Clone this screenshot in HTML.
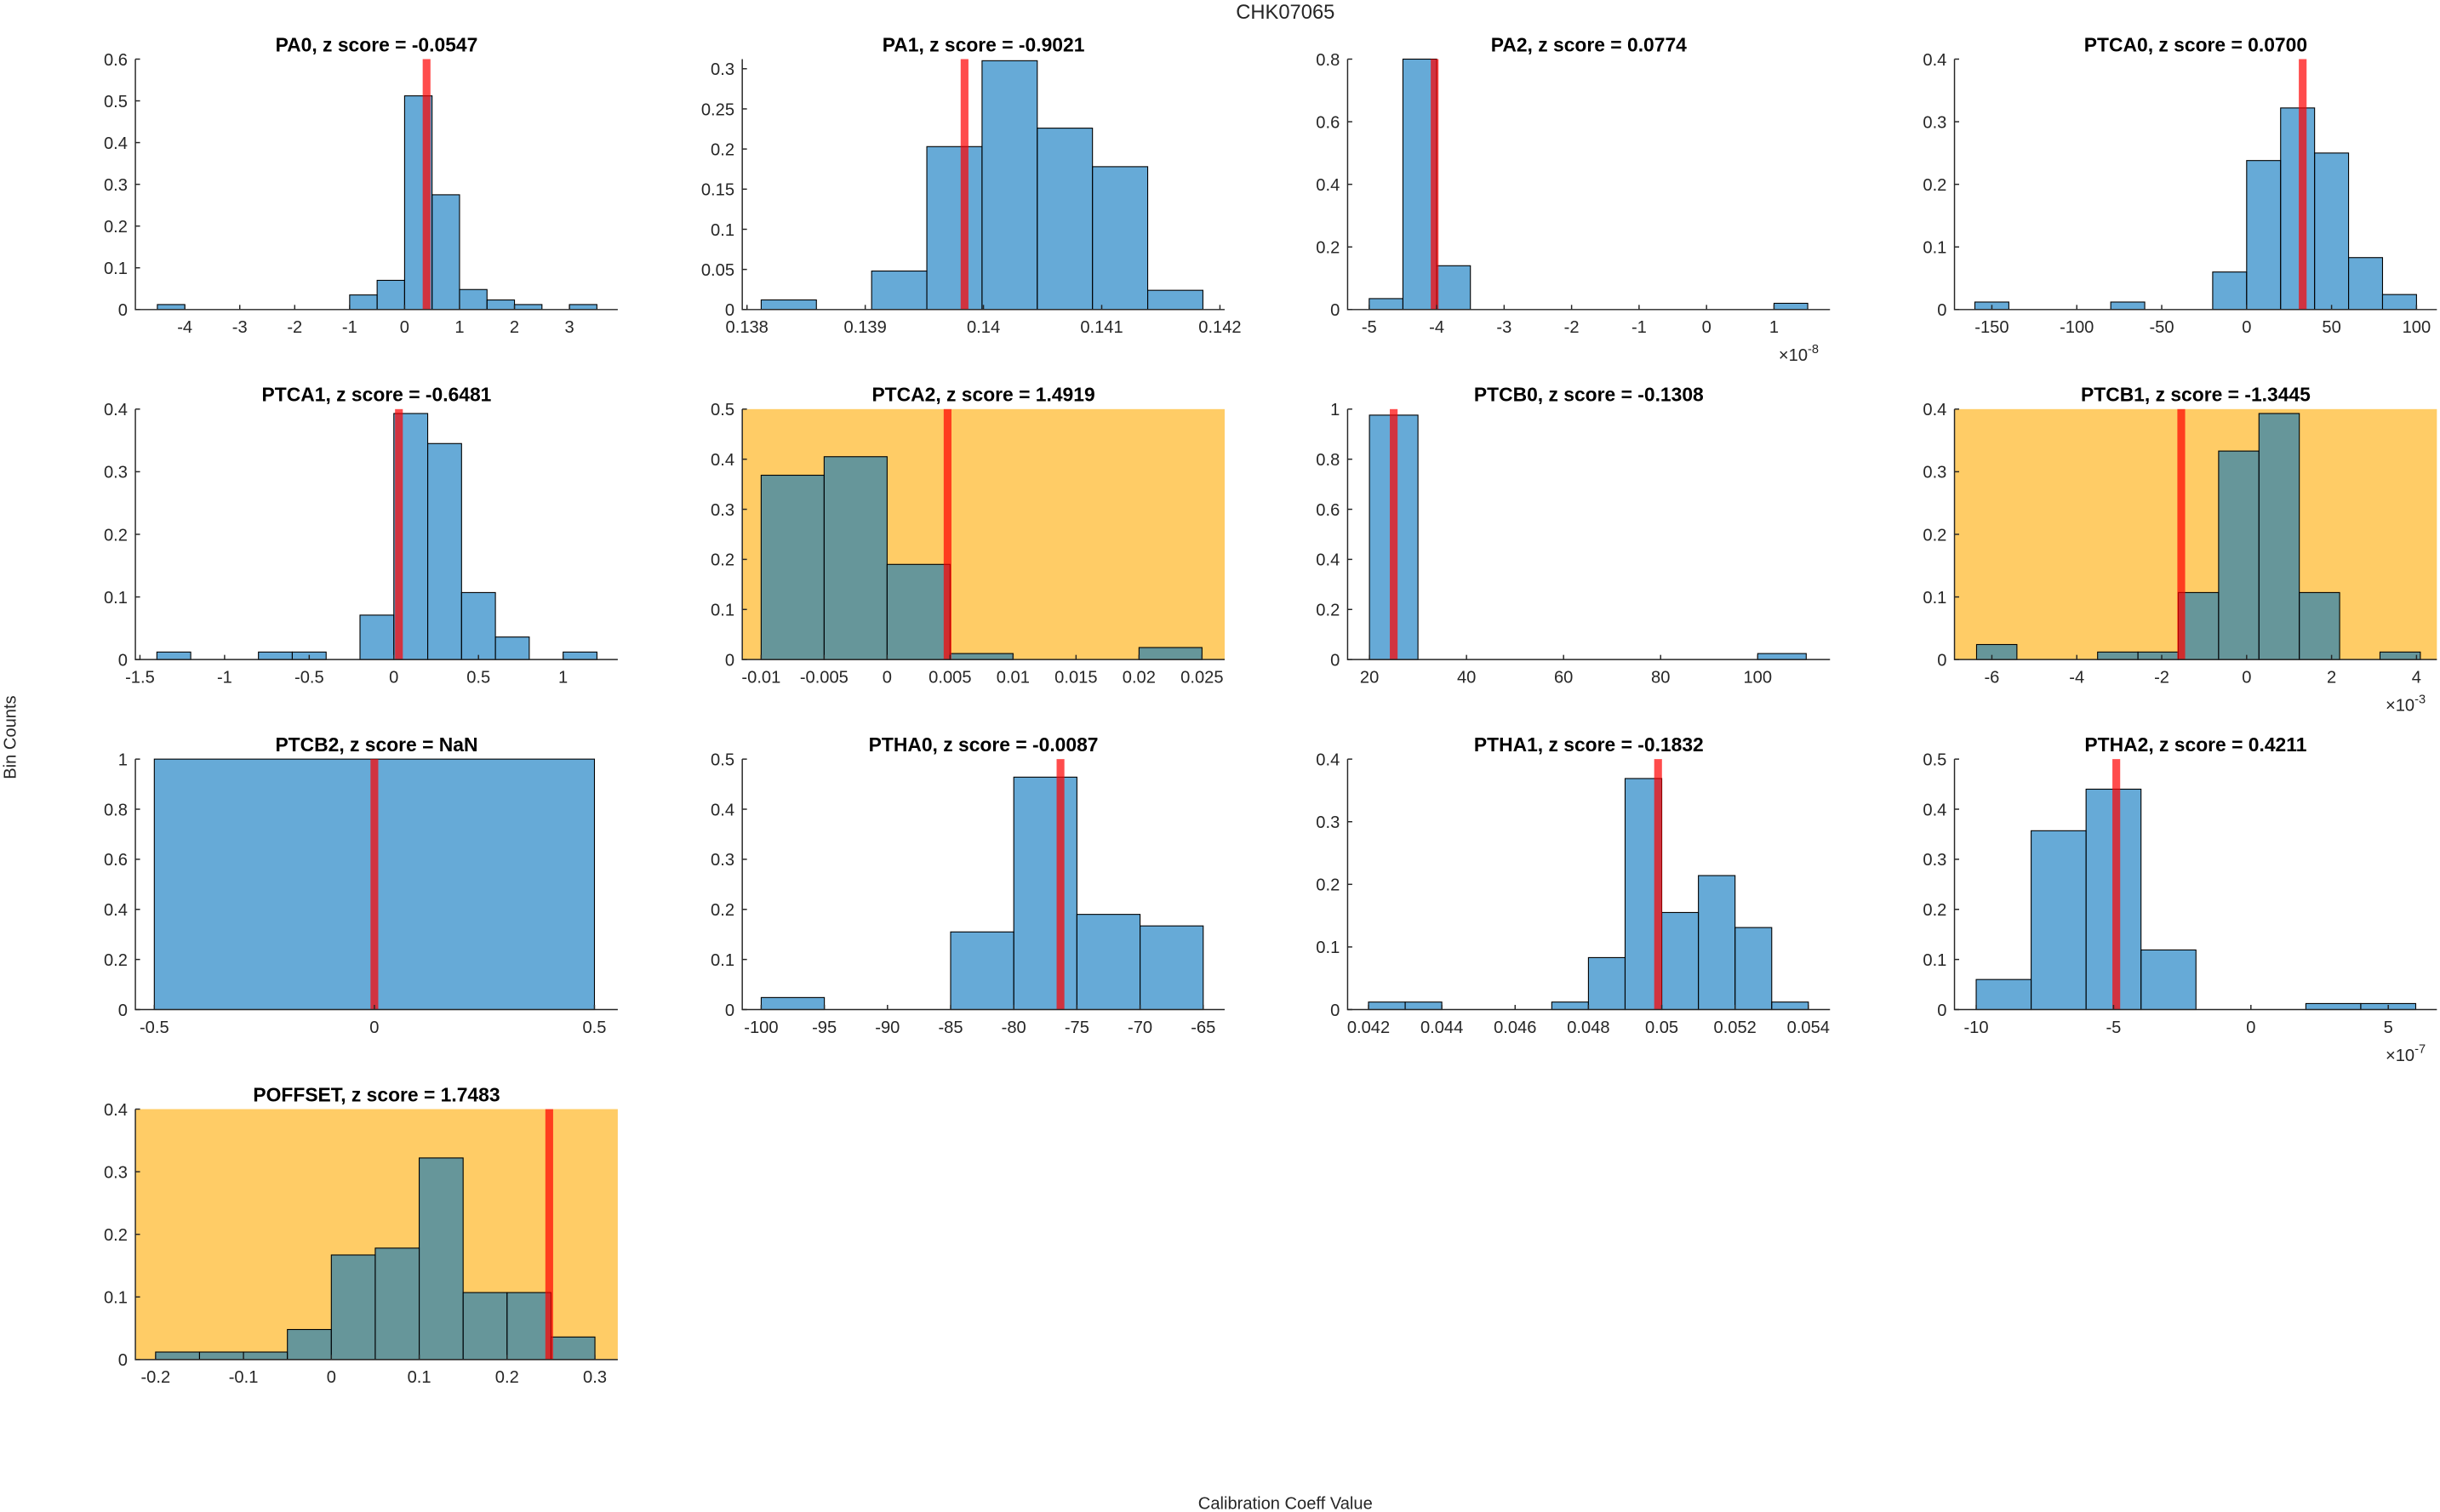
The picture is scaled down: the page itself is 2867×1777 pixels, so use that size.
<!DOCTYPE html>
<html><head><meta charset="utf-8"><style>
html,body{margin:0;padding:0;background:#fff;}
svg{display:block;font-family:"Liberation Sans","DejaVu Sans",sans-serif;}
</style></head><body>
<svg id="fig" width="2867" height="1777" viewBox="0 0 1568 972" preserveAspectRatio="none" xmlns="http://www.w3.org/2000/svg">
<rect width="1568" height="972" fill="#fff"/>
<text x="826" y="12" font-size="13" fill="#262626" text-anchor="middle">CHK07065</text>
<text x="0" y="0" font-size="11" fill="#262626" text-anchor="middle" transform="translate(10,474) rotate(-90)">Bin Counts</text>
<text x="826" y="970" font-size="11" fill="#262626" text-anchor="middle">Calibration Coeff Value</text>
</svg>
<script>
// ---- data ----
const pa0Edges=[-4.5,-4,-3.5,-3,-2.5,-2,-1.5,-1,-0.5,0,0.5,1,1.5,2,2.5,3,3.5];
const pa0Values=[0.012,0,0,0,0,0,0,0.035,0.07,0.512,0.275,0.048,0.023,0.012,0,0.012];
const pa0Red=0.40;
const pa0XTicks=[-4,-3,-2,-1,0,1,2,3];
const pa0XLabels=["-4","-3","-2","-1","0","1","2","3"];
const pa0YTicks=[0,0.1,0.2,0.3,0.4,0.5,0.6];
const pa0YLabels=["0","0.1","0.2","0.3","0.4","0.5","0.6"];

const pa1Edges=[0.13812,0.138587,0.139054,0.139521,0.139988,0.140455,0.140922,0.141389,0.141856];
const pa1Values=[0.012,0,0.048,0.203,0.31,0.226,0.178,0.024];
const pa1Red=0.13984;
const pa1XTicks=[0.138,0.139,0.140,0.141,0.142];
const pa1XLabels=["0.138","0.139","0.14","0.141","0.142"];
const pa1YTicks=[0,0.05,0.1,0.15,0.2,0.25,0.3];
const pa1YLabels=["0","0.05","0.1","0.15","0.2","0.25","0.3"];

const pa2Edges=[-5,-4.5,-4,-3.5,-3,-2.5,-2,-1.5,-1,-0.5,0,0.5,1,1.5];
const pa2Values=[0.035,0.8,0.14,0,0,0,0,0,0,0,0,0,0.02];
const pa2Red=-4.03;
const pa2XTicks=[-5,-4,-3,-2,-1,0,1];
const pa2XLabels=["-5","-4","-3","-2","-1","0","1"];
const pa2YTicks=[0,0.2,0.4,0.6,0.8];
const pa2YLabels=["0","0.2","0.4","0.6","0.8"];

const ptca0Edges=[-160,-140,-120,-100,-80,-60,-40,-20,0,20,40,60,80,100];
const ptca0Values=[0.012,0,0,0,0.012,0,0,0.06,0.238,0.322,0.25,0.083,0.024];
const ptca0Red=33;
const ptca0XTicks=[-150,-100,-50,0,50,100];
const ptca0XLabels=["-150","-100","-50","0","50","100"];
const ptca0YTicks=[0,0.1,0.2,0.3,0.4];
const ptca0YLabels=["0","0.1","0.2","0.3","0.4"];

const ptca1Edges=[-1.4,-1.2,-1,-0.8,-0.6,-0.4,-0.2,0,0.2,0.4,0.6,0.8,1,1.2];
const ptca1Values=[0.012,0,0,0.012,0.012,0,0.071,0.393,0.345,0.107,0.036,0,0.012];
const ptca1Red=0.03;
const ptca1XTicks=[-1.5,-1,-0.5,0,0.5,1];
const ptca1XLabels=["-1.5","-1","-0.5","0","0.5","1"];
const ptca1YTicks=[0,0.1,0.2,0.3,0.4];
const ptca1YLabels=["0","0.1","0.2","0.3","0.4"];

const ptca2Edges=[-0.01,-0.005,0,0.005,0.01,0.015,0.02,0.025];
const ptca2Values=[0.368,0.405,0.19,0.012,0,0,0.024];
const ptca2Red=0.0048;
const ptca2XTicks=[-0.01,-0.005,0,0.005,0.01,0.015,0.02,0.025];
const ptca2XLabels=["-0.01","-0.005","0","0.005","0.01","0.015","0.02","0.025"];
const ptca2YTicks=[0,0.1,0.2,0.3,0.4,0.5];
const ptca2YLabels=["0","0.1","0.2","0.3","0.4","0.5"];

const ptcb0Edges=[20,30,40,50,60,70,80,90,100,110];
const ptcb0Values=[0.976,0,0,0,0,0,0,0,0.024];
const ptcb0Red=25;
const ptcb0XTicks=[20,40,60,80,100];
const ptcb0XLabels=["20","40","60","80","100"];
const ptcb0YTicks=[0,0.2,0.4,0.6,0.8,1];
const ptcb0YLabels=["0","0.2","0.4","0.6","0.8","1"];

const ptcb1Edges=[-6.36,-5.41,-4.46,-3.51,-2.56,-1.61,-0.66,0.29,1.24,2.19,3.14,4.09];
const ptcb1Values=[0.024,0,0,0.012,0.012,0.107,0.333,0.393,0.107,0,0.012];
const ptcb1Red=-1.54;
const ptcb1XTicks=[-6,-4,-2,0,2,4];
const ptcb1XLabels=["-6","-4","-2","0","2","4"];
const ptcb1YTicks=[0,0.1,0.2,0.3,0.4];
const ptcb1YLabels=["0","0.1","0.2","0.3","0.4"];

const ptcb2Edges=[-0.5,0.5];
const ptcb2Values=[1];
const ptcb2Red=0;
const ptcb2XTicks=[-0.5,0,0.5];
const ptcb2XLabels=["-0.5","0","0.5"];
const ptcb2YTicks=[0,0.2,0.4,0.6,0.8,1];
const ptcb2YLabels=["0","0.2","0.4","0.6","0.8","1"];

const ptha0Edges=[-100,-95,-90,-85,-80,-75,-70,-65];
const ptha0Values=[0.024,0,0,0.155,0.464,0.19,0.167];
const ptha0Red=-76.3;
const ptha0XTicks=[-100,-95,-90,-85,-80,-75,-70,-65];
const ptha0XLabels=["-100","-95","-90","-85","-80","-75","-70","-65"];
const ptha0YTicks=[0,0.1,0.2,0.3,0.4,0.5];
const ptha0YLabels=["0","0.1","0.2","0.3","0.4","0.5"];

const ptha1Edges=[0.042,0.043,0.044,0.045,0.046,0.047,0.048,0.049,0.050,0.051,0.052,0.053,0.054];
const ptha1Values=[0.012,0.012,0,0,0,0.012,0.083,0.369,0.155,0.214,0.131,0.012];
const ptha1Red=0.0499;
const ptha1XTicks=[0.042,0.044,0.046,0.048,0.050,0.052,0.054];
const ptha1XLabels=["0.042","0.044","0.046","0.048","0.05","0.052","0.054"];
const ptha1YTicks=[0,0.1,0.2,0.3,0.4];
const ptha1YLabels=["0","0.1","0.2","0.3","0.4"];

const ptha2Edges=[-10,-8,-6,-4,-2,0,2,4,6];
const ptha2Values=[0.06,0.357,0.44,0.119,0,0,0.012,0.012];
const ptha2Red=-4.9;
const ptha2XTicks=[-10,-5,0,5];
const ptha2XLabels=["-10","-5","0","5"];
const ptha2YTicks=[0,0.1,0.2,0.3,0.4,0.5];
const ptha2YLabels=["0","0.1","0.2","0.3","0.4","0.5"];

const poffEdges=[-0.2,-0.15,-0.1,-0.05,0,0.05,0.1,0.15,0.2,0.25,0.3];
const poffValues=[0.012,0.012,0.012,0.048,0.167,0.178,0.322,0.107,0.107,0.036];
const poffRed=0.248;
const poffXTicks=[-0.2,-0.1,0,0.1,0.2,0.3];
const poffXLabels=["-0.2","-0.1","0","0.1","0.2","0.3"];
const poffYTicks=[0,0.1,0.2,0.3,0.4];
const poffYLabels=["0","0.1","0.2","0.3","0.4"];

// ---- layout ----
const colLeft=[87,477,866,1256];
const rowTop=[38,263,488,713];
const W=310, H=161;
const NS="http://www.w3.org/2000/svg";
const svg=document.getElementById('fig');

const plots=[
 {id:'pa0',title:'PA0, z score = -0.0547',col:0,row:0,xlim:[-4.9,3.88],ymax:0.6,e:pa0Edges,v:pa0Values,r:pa0Red,xt:pa0XTicks,xl:pa0XLabels,yt:pa0YTicks,yl:pa0YLabels},
 {id:'pa1',title:'PA1, z score = -0.9021',col:1,row:0,xlim:[0.13796,0.14204],ymax:0.312,e:pa1Edges,v:pa1Values,r:pa1Red,xt:pa1XTicks,xl:pa1XLabels,yt:pa1YTicks,yl:pa1YLabels},
 {id:'pa2',title:'PA2, z score = 0.0774',col:2,row:0,xlim:[-5.32,1.83],ymax:0.8,e:pa2Edges,v:pa2Values,r:pa2Red,xt:pa2XTicks,xl:pa2XLabels,yt:pa2YTicks,yl:pa2YLabels,exp:'-8'},
 {id:'ptca0',title:'PTCA0, z score = 0.0700',col:3,row:0,xlim:[-172,112],ymax:0.4,e:ptca0Edges,v:ptca0Values,r:ptca0Red,xt:ptca0XTicks,xl:ptca0XLabels,yt:ptca0YTicks,yl:ptca0YLabels},
 {id:'ptca1',title:'PTCA1, z score = -0.6481',col:0,row:1,xlim:[-1.527,1.323],ymax:0.4,e:ptca1Edges,v:ptca1Values,r:ptca1Red,xt:ptca1XTicks,xl:ptca1XLabels,yt:ptca1YTicks,yl:ptca1YLabels},
 {id:'ptca2',title:'PTCA2, z score = 1.4919',col:1,row:1,xlim:[-0.0115,0.0268],ymax:0.5,e:ptca2Edges,v:ptca2Values,r:ptca2Red,xt:ptca2XTicks,xl:ptca2XLabels,yt:ptca2YTicks,yl:ptca2YLabels,hl:true},
 {id:'ptcb0',title:'PTCB0, z score = -0.1308',col:2,row:1,xlim:[15.5,114.9],ymax:1,e:ptcb0Edges,v:ptcb0Values,r:ptcb0Red,xt:ptcb0XTicks,xl:ptcb0XLabels,yt:ptcb0YTicks,yl:ptcb0YLabels},
 {id:'ptcb1',title:'PTCB1, z score = -1.3445',col:3,row:1,xlim:[-6.88,4.48],ymax:0.4,e:ptcb1Edges,v:ptcb1Values,r:ptcb1Red,xt:ptcb1XTicks,xl:ptcb1XLabels,yt:ptcb1YTicks,yl:ptcb1YLabels,hl:true,exp:'-3'},
 {id:'ptcb2',title:'PTCB2, z score = NaN',col:0,row:2,xlim:[-0.543,0.553],ymax:1,e:ptcb2Edges,v:ptcb2Values,r:ptcb2Red,xt:ptcb2XTicks,xl:ptcb2XLabels,yt:ptcb2YTicks,yl:ptcb2YLabels},
 {id:'ptha0',title:'PTHA0, z score = -0.0087',col:1,row:2,xlim:[-101.5,-63.3],ymax:0.5,e:ptha0Edges,v:ptha0Values,r:ptha0Red,xt:ptha0XTicks,xl:ptha0XLabels,yt:ptha0YTicks,yl:ptha0YLabels},
 {id:'ptha1',title:'PTHA1, z score = -0.1832',col:2,row:2,xlim:[0.04143,0.05459],ymax:0.4,e:ptha1Edges,v:ptha1Values,r:ptha1Red,xt:ptha1XTicks,xl:ptha1XLabels,yt:ptha1YTicks,yl:ptha1YLabels},
 {id:'ptha2',title:'PTHA2, z score = 0.4211',col:3,row:2,xlim:[-10.79,6.77],ymax:0.5,e:ptha2Edges,v:ptha2Values,r:ptha2Red,xt:ptha2XTicks,xl:ptha2XLabels,yt:ptha2YTicks,yl:ptha2YLabels,exp:'-7'},
 {id:'poffset',title:'POFFSET, z score = 1.7483',col:0,row:3,xlim:[-0.223,0.326],ymax:0.4,e:poffEdges,v:poffValues,r:poffRed,xt:poffXTicks,xl:poffXLabels,yt:poffYTicks,yl:poffYLabels,hl:true}
];

function mk(tag,attrs,parent){const el=document.createElementNS(NS,tag);for(const k in attrs)el.setAttribute(k,attrs[k]);parent.appendChild(el);return el;}

plots.forEach(p=>{
  const x0=colLeft[p.col], y0=rowTop[p.row];
  const sx=v=>x0+(v-p.xlim[0])/(p.xlim[1]-p.xlim[0])*W;
  const sy=v=>y0+H-v/p.ymax*H;
  const g=mk('g',{},svg);
  
  
  if(p.hl){
    const bg=mk('rect',{x:x0,y:y0,width:W,height:H,fill:'rgb(255,204,102)'},g);
    
    
  }
  for(let i=0;i<p.v.length;i++){
    const xa=sx(p.e[i]), xb=sx(p.e[i+1]), yt=sy(p.v[i]);
    const b=mk('rect',{x:xa,y:yt,width:xb-xa,height:y0+H-yt,fill:'rgb(0,114,189)','fill-opacity':0.6,stroke:'#000','stroke-width':0.6},g);
    
    
  }
  const rl=mk('rect',{x:sx(p.r)-2.5,y:y0,width:5,height:H,fill:'rgb(255,0,0)','fill-opacity':0.7},g);
  
  
  const ax=mk('path',{d:`M${x0} ${y0}V${y0+H}H${x0+W}`,fill:'none',stroke:'#262626','stroke-width':0.8},g);
  
  
  p.xt.forEach((t,i)=>{
    const x=sx(t);
    mk('line',{x1:x,x2:x,y1:y0+H,y2:y0+H-3,stroke:'#262626','stroke-width':0.8},g);
    const tx=mk('text',{x:x,y:y0+H+15,'font-size':11,fill:'#262626','text-anchor':'middle'},g);
    tx.textContent=p.xl[i];
    
    
  });
  p.yt.forEach((t,i)=>{
    const y=sy(t);
    mk('line',{x1:x0,x2:x0+3,y1:y,y2:y,stroke:'#262626','stroke-width':0.8},g);
    const ty=mk('text',{x:x0-5,y:y+4,'font-size':11,fill:'#262626','text-anchor':'end'},g);
    ty.textContent=p.yl[i];
    
    
  });
  const tt=mk('text',{x:x0+W/2,y:y0-5,'font-size':12.5,'font-weight':'bold',fill:'#000','text-anchor':'middle'},g);
  tt.textContent=p.title;
  
  
  if(p.exp){
    const ex=mk('text',{x:x0+W-33,y:y0+H+33,'font-size':11,fill:'#262626'},g);
    ex.textContent='\u00d710';
    const sup=mk('tspan',{dy:-5,'font-size':8},ex);
    sup.textContent=p.exp;
    
    
  }
});
</script>
</body></html>
